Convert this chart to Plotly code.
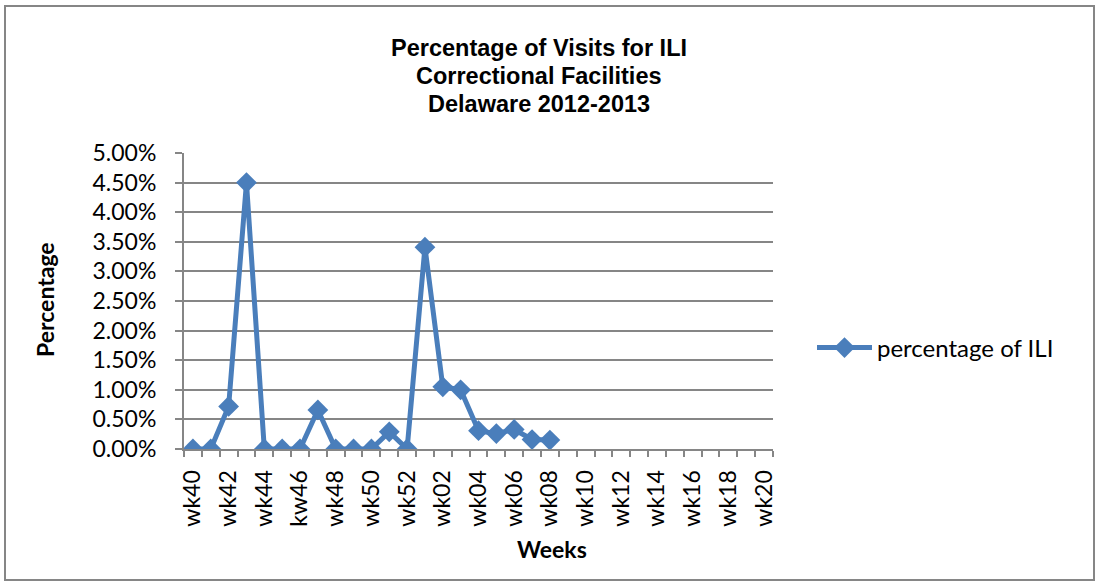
import plotly.graph_objects as go

weeks = ["wk40", "wk41", "wk42", "wk43", "wk44", "wk45", "kw46", "wk47", "wk48", "wk49",
         "wk50", "wk51", "wk52", "wk01", "wk02", "wk03", "wk04", "wk05", "wk06", "wk07",
         "wk08", "wk09", "wk10", "wk11", "wk12", "wk13", "wk14", "wk15", "wk16", "wk17",
         "wk18", "wk19", "wk20"]
pct_ili = [0.0, 0.0, 0.72, 4.50, 0.0, 0.0, 0.0, 0.66, 0.0, 0.0,
           0.0, 0.29, 0.0, 3.41, 1.05, 1.00, 0.31, 0.26, 0.33, 0.16, 0.15]
y_ticks = [0, 0.005, 0.01, 0.015, 0.02, 0.025, 0.03, 0.035, 0.04, 0.045, 0.05]
title_lines = ["Percentage of Visits for ILI", "Correctional Facilities", "Delaware 2012-2013"]

W, H = 1098, 584
L, R, T, B = 184, 325, 153, 135
pw, ph = W - L - R, H - T - B

def px_x(x):
    return (x - L) / pw

def px_y(y):
    return (H - B - y) / ph

blue = "#4A7EBB"
grey = "#868686"
sans = "Lato, Open Sans, sans-serif"
tick_font = dict(family=sans, size=23, color="#000000")

fig = go.Figure()
fig.add_trace(go.Scatter(
    x=weeks[:len(pct_ili)], y=[v / 100 for v in pct_ili],
    mode="lines+markers", name="percentage of ILI",
    line=dict(color=blue, width=5),
    marker=dict(symbol="diamond", size=16, color=blue),
))

ticktext = [w if i % 2 == 0 else "" for i, w in enumerate(weeks)]

fig.update_layout(
    width=W, height=H,
    margin=dict(l=L, r=R, t=T, b=B),
    paper_bgcolor="white", plot_bgcolor="white",
    showlegend=True,
    legend=dict(x=px_x(812), y=px_y(348), xanchor="left", yanchor="middle",
                font=dict(family=sans, size=24, color="#000000"),
                bgcolor="rgba(0,0,0,0)", itemwidth=55),
    xaxis=dict(
        type="category", categoryorder="array", categoryarray=weeks,
        range=[-0.5, len(weeks) - 0.5],
        tickmode="array", tickvals=weeks, ticktext=ticktext,
        tickangle=-90, tickfont=tick_font,
        ticks="outside", ticklen=6, tickcolor=grey, tickwidth=2,
        tickson="boundaries", ticklabelstandoff=10,
        showline=True, linecolor=grey, linewidth=2,
        showgrid=False, zeroline=False,
    ),
    yaxis=dict(
        range=[0, 0.05], tickmode="array", tickvals=y_ticks, tickformat=".2%",
        tickfont=tick_font,
        ticks="outside", ticklen=7, tickcolor=grey, tickwidth=2,
        ticklabelstandoff=14,
        showline=True, linecolor=grey, linewidth=2,
        showgrid=True, gridcolor=grey, gridwidth=1.5,
        zeroline=False,
    ),
)

title_y = [48, 76, 104]
for txt, yy in zip(title_lines, title_y):
    fig.add_annotation(text="<b>" + txt + "</b>", x=px_x(539), y=px_y(yy),
                       xref="paper", yref="paper", showarrow=False,
                       xanchor="center", yanchor="middle",
                       font=dict(family="Liberation Sans, Arial, sans-serif", size=23.5, color="#000000"))

fig.add_annotation(text="<b>Percentage</b>", x=px_x(45), y=px_y(300),
                   xref="paper", yref="paper", showarrow=False, textangle=-90,
                   xanchor="center", yanchor="middle",
                   font=dict(family=sans, size=23, color="#000000"))
fig.add_annotation(text="<b>Weeks</b>", x=px_x(552), y=px_y(549),
                   xref="paper", yref="paper", showarrow=False,
                   xanchor="center", yanchor="middle",
                   font=dict(family=sans, size=23, color="#000000"))

fig.add_shape(type="rect", xref="paper", yref="paper",
              x0=px_x(5), x1=px_x(1094), y0=px_y(580), y1=px_y(6),
              line=dict(color=grey, width=2), layer="below")

fig.write_html("out.html", config={"displayModeBar": False},
               post_script="document.body.style.margin='0';document.body.style.overflow='hidden';")
